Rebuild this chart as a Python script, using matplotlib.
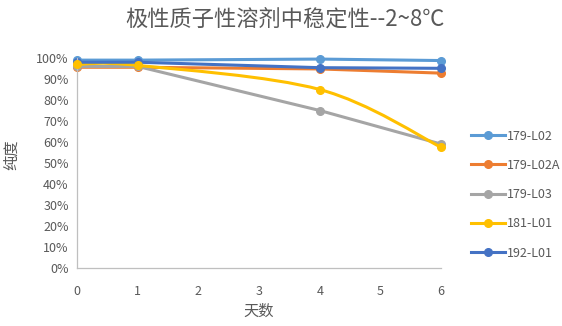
import matplotlib
matplotlib.use("Agg")
import matplotlib.pyplot as plt
import numpy as np
from matplotlib.path import Path
from matplotlib.patches import PathPatch
from matplotlib.ticker import PercentFormatter

plt.rcParams['font.family'] = ['Noto Sans CJK SC', 'DejaVu Sans']

# 数据
days = [0, 1, 4, 6]
series_names = ["179-L02", "179-L02A", "179-L03", "181-L01", "192-L01"]
v_179_L02 = [0.990, 0.990, 0.995, 0.988]
v_179_L02A = [0.956, 0.956, 0.948, 0.928]
v_179_L03 = [0.960, 0.960, 0.750, 0.590]
v_181_L01 = [0.970, 0.965, 0.850, 0.575]
v_192_L01 = [0.980, 0.980, 0.954, 0.951]
series_values = [v_179_L02, v_179_L02A, v_179_L03, v_181_L01, v_192_L01]
colors = ["#5B9BD5", "#ED7D31", "#A5A5A5", "#FFC000", "#4472C4"]
smooth = [False, False, False, True, False]


def smooth_path(x, y, t=1/6):
    # 平滑折线 (Catmull-Rom 转贝塞尔)
    x = np.asarray(x, float)
    y = np.asarray(y, float)
    verts = [(x[0], y[0])]
    codes = [Path.MOVETO]
    n = len(x)
    for i in range(n - 1):
        p0 = i - 1 if i > 0 else i
        p3 = i + 2 if i + 2 < n else i + 1
        c1 = (x[i] + (x[i + 1] - x[p0]) * t, y[i] + (y[i + 1] - y[p0]) * t)
        c2 = (x[i + 1] - (x[p3] - x[i]) * t, y[i + 1] - (y[p3] - y[i]) * t)
        verts += [c1, c2, (x[i + 1], y[i + 1])]
        codes += [Path.CURVE4] * 3
    return Path(verts, codes)


fig = plt.figure(figsize=(5.62, 3.26), dpi=100)
ax = fig.add_axes([0.137, 0.178, 0.648, 0.644])

for name, vals, c, sm in zip(series_names, series_values, colors, smooth):
    if sm:
        ax.add_patch(PathPatch(smooth_path(days, vals), fill=False, edgecolor=c,
                               lw=2.2, capstyle='round', zorder=2, clip_on=False))
        ax.plot(days, vals, ls='none', marker='o', ms=5.5, color=c, zorder=3,
                clip_on=False)
    else:
        ax.plot(days, vals, marker='o', ms=5.5, lw=2.2, color=c,
                solid_capstyle='round', zorder=2, clip_on=False)

# 图例用线+点
handles = [plt.Line2D([], [], color=c, lw=2.2, marker='o', ms=5.5) for c in colors]

ax.set_xlim(0, 6)
ax.set_ylim(0, 1.0)
ax.set_xticks(range(7))
ax.set_yticks(np.arange(0, 1.01, 0.1))
ax.yaxis.set_major_formatter(PercentFormatter(1.0, decimals=0))
ax.tick_params(length=0, labelsize=9, colors="#595959", pad=6)
ax.tick_params(axis='x', pad=12)
for s in ['top', 'right']:
    ax.spines[s].set_visible(False)
for s in ['left', 'bottom']:
    ax.spines[s].set_color("#BFBFBF")
    ax.spines[s].set_linewidth(0.9)

fig.text(0.507, 0.942, "极性质子性溶剂中稳定性--2~8℃", fontsize=16, color="#595959",
         ha='center', va='center')
ax.set_xlabel("天数", fontsize=11, color="#595959", labelpad=4)
ax.set_ylabel("纯度", fontsize=11, color="#595959")
ax.yaxis.set_label_coords(-0.155, 0.54)

fig.legend(handles, series_names, loc='upper left', bbox_to_anchor=(0.829, 0.618),
           frameon=False, fontsize=9, labelcolor="#595959", handlelength=2.7,
           labelspacing=1.3, handletextpad=0.15, borderaxespad=0)

fig.savefig("out.png", dpi=100)
